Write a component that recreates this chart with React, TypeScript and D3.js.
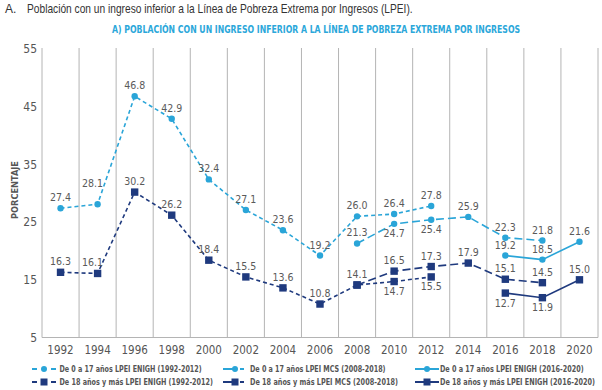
import React, { useLayoutEffect, useRef, useState } from 'react';
import * as d3 from 'd3';

const years = ['1992','1994','1996','1998','2000','2002','2004','2006','2008','2010','2012','2014','2016','2018','2020'];
const yTicks = [5, 15, 25, 35, 45, 55];

const childEnighAYears = ['1992','1994','1996','1998','2000','2002','2004','2006','2008','2010','2012'];
const childEnighAValues = [27.4, 28.1, 46.8, 42.9, 32.4, 27.1, 23.6, 19.2, 26.0, 26.4, 27.8];

const childMcsYears = ['2008','2010','2012','2014','2016','2018'];
const childMcsValues = [21.3, 24.7, 25.4, 25.9, 22.3, 21.8];

const childEnighBYears = ['2016','2018','2020'];
const childEnighBValues = [19.2, 18.5, 21.6];

const adultEnighAYears = ['1992','1994','1996','1998','2000','2002','2004','2006','2008','2010','2012'];
const adultEnighAValues = [16.3, 16.1, 30.2, 26.2, 18.4, 15.5, 13.6, 10.8, 14.1, 14.7, 15.5];

const adultMcsYears = ['2008','2010','2012','2014','2016','2018'];
const adultMcsValues = [14.1, 16.5, 17.3, 17.9, 15.1, 14.5];

const adultEnighBYears = ['2016','2018','2020'];
const adultEnighBValues = [12.7, 11.9, 15.0];

const legendLabels = [
  'De 0 a 17 años LPEI ENIGH (1992-2012)',
  'De 0 a 17 años LPEI MCS (2008-2018)',
  'De 0 a 17 años LPEI ENIGH (2016-2020)',
  'De 18 años y más LPEI ENIGH (1992-2012)',
  'De 18 años y más LPEI MCS (2008-2018)',
  'De 18 años y más LPEI ENIGH (2016-2020)',
];

const LIGHT = '#2aa5d8';
const DARK = '#1f3a7e';
const LABEL = '#5a5a5a';
const COND = "'Liberation Sans Narrow', 'DejaVu Sans Condensed', 'Roboto', sans-serif";

type Series = {
  years: string[];
  values: number[];
  color: string;
  dash: string;
  marker: 'circle' | 'square';
  below: number[];
  dx: Record<number, number>;
  dy: Record<number, number>;
  hideLabel: number[];
};

const series: Series[] = [
  { years: childEnighAYears, values: childEnighAValues, color: LIGHT, dash: '4,3', marker: 'circle', below: [], dx: { 1: -5 }, dy: { 1: -17 }, hideLabel: [] },
  { years: childMcsYears, values: childMcsValues, color: LIGHT, dash: '8,4', marker: 'circle', below: [1, 2], dx: {}, dy: {}, hideLabel: [] },
  { years: childEnighBYears, values: childEnighBValues, color: LIGHT, dash: '', marker: 'circle', below: [], dx: {}, dy: {}, hideLabel: [] },
  { years: adultEnighAYears, values: adultEnighAValues, color: DARK, dash: '4,3', marker: 'square', below: [9, 10], dx: { 1: -5 }, dy: {}, hideLabel: [8] },
  { years: adultMcsYears, values: adultMcsValues, color: DARK, dash: '8,4', marker: 'square', below: [], dx: {}, dy: {}, hideLabel: [] },
  { years: adultEnighBYears, values: adultEnighBValues, color: DARK, dash: '', marker: 'square', below: [0, 1], dx: {}, dy: {}, hideLabel: [] },
];

type FitProps = {
  x: number; y: number; width: number; rotate?: number; anchor?: string;
  fontFamily: string; fontSize: number; fontWeight?: string; fill: string; dy?: string;
  children: string;
};

function FitText({ x, y, width, rotate, anchor, fontFamily, fontSize, fontWeight, fill, dy, children }: FitProps) {
  const ref = useRef<SVGTextElement>(null);
  const [s, setS] = useState(1);
  useLayoutEffect(() => {
    if (ref.current) {
      const n = ref.current.getComputedTextLength();
      if (n > 0) setS(width / n);
    }
  }, [width, children]);
  const rot = rotate ? ` rotate(${rotate})` : '';
  return (
    <text ref={ref} transform={`translate(${x},${y})${rot} scale(${s},1)`} textAnchor={anchor || 'start'}
      fontFamily={fontFamily} fontSize={fontSize} fontWeight={fontWeight} fill={fill} dy={dy}>{children}</text>
  );
}

export default function App() {
  const W = 602, H = 390;
  const x = d3.scaleBand<string>().domain(years).range([42, 598]);
  const y = d3.scaleLinear().domain([5, 55]).range([337.5, 49]);
  const cx = (yr: string) => (x(yr) as number) + x.bandwidth() / 2;
  const line = d3.line<[string, number]>().x(d => cx(d[0])).y(d => y(d[1]));

  const gridXs = years.map(yr => x(yr) as number).concat([598]);

  const legendCols = [
    { sym: 32, text: 59.5, w: [142.5, 153.5] },
    { sym: 223, text: 250, w: [136, 148] },
    { sym: 415, text: 440, w: [144, 155] },
  ];
  const legendRows = [369, 382];

  const legendSymbol = (s: Series, x0: number, cy: number, key: string) => {
    const m = s.marker === 'circle'
      ? <circle cx={x0 + 12} cy={cy} r={3} fill={s.color} />
      : <rect x={x0 + 8.5} y={cy - 3.5} width={7} height={7} fill={s.color} />;
    if (s.dash === '4,3') {
      return (
        <g key={key}>
          <line x1={x0} x2={x0 + 5} y1={cy} y2={cy} stroke={s.color} strokeWidth={2} />
          <line x1={x0 + 19} x2={x0 + 24} y1={cy} y2={cy} stroke={s.color} strokeWidth={2} />
          {m}
        </g>
      );
    }
    if (s.dash === '8,4') {
      return (
        <g key={key}>
          <line x1={x0} x2={x0 + 12} y1={cy} y2={cy} stroke={s.color} strokeWidth={2} />
          <line x1={x0 + 17} x2={x0 + 21} y1={cy} y2={cy} stroke={s.color} strokeWidth={2} />
          {m}
        </g>
      );
    }
    return (
      <g key={key}>
        <line x1={x0} x2={x0 + 24} y1={cy} y2={cy} stroke={s.color} strokeWidth={2} />
        {m}
      </g>
    );
  };

  return (
    <svg width={W} height={H} style={{ position: 'absolute', left: 0, top: 0, background: '#fff' }}>
      <rect width={W} height={H} fill="#fff" />
      <text x={5} y={13} fontFamily="'Liberation Sans', Arial, sans-serif" fontSize={12} fill="#333">A.</text>
      <FitText x={27} y={13} width={386} fontFamily="'Liberation Sans', Arial, sans-serif" fontSize={12} fill="#333">Población con un ingreso inferior a la Línea de Pobreza Extrema por Ingresos (LPEI).</FitText>
      <FitText x={112} y={33} width={409} fontFamily={COND} fontWeight="bold" fontSize={11} fill="#2ba7da">A) POBLACIÓN CON UN INGRESO INFERIOR A LA LÍNEA DE POBREZA EXTREMA POR INGRESOS</FitText>

      {gridXs.map((gx, i) => (
        <line key={'g' + i} x1={gx} x2={gx} y1={48} y2={337.5} stroke="#b4b4b4" strokeWidth={1} />
      ))}
      <line x1={42} x2={598} y1={337.5} y2={337.5} stroke="#b4b4b4" strokeWidth={1} />

      {yTicks.map(t => (
        <text key={'yt' + t} x={37} y={y(t)} dy="0.35em" textAnchor="end" fontFamily={COND} fontSize={12} fill="#555">{t}</text>
      ))}
      <FitText x={18} y={190} rotate={-90} anchor="middle" width={58} fontFamily={COND} fontWeight="bold" fontSize={8.5} fill="#555">PORCENTAJE</FitText>
      {years.map(yr => (
        <text key={'xt' + yr} x={cx(yr)} y={353.5} textAnchor="middle" fontFamily={COND} fontSize={11.5} fill="#555">{yr}</text>
      ))}

      {series.map((s, si) => {
        const pts = s.years.map((yr, i) => [yr, s.values[i]] as [string, number]);
        return (
          <g key={'s' + si}>
            <path d={line(pts) || ''} fill="none" stroke={s.color} strokeWidth={1.6} strokeDasharray={s.dash || undefined} />
            {pts.map((p, i) => s.marker === 'circle'
              ? <circle key={i} cx={cx(p[0])} cy={y(p[1])} r={3.2} fill={s.color} />
              : <rect key={i} x={cx(p[0]) - 3.7} y={y(p[1]) - 3.7} width={7.4} height={7.4} fill={s.color} />)}
          </g>
        );
      })}

      {series.map((s, si) => (
        <g key={'l' + si}>
          {s.years.map((yr, i) => s.hideLabel.includes(i) ? null : (
            <text key={i} x={cx(yr) + (s.dx[i] || 0)}
              y={y(s.values[i]) + (s.dy[i] !== undefined ? s.dy[i] : (s.below.includes(i) ? 13.5 : -7))}
              textAnchor="middle" fontFamily={COND} fontSize={10.5} fill={LABEL}>{s.values[i].toFixed(1)}</text>
          ))}
        </g>
      ))}

      {series.map((s, si) => {
        const col = legendCols[si % 3];
        const row = Math.floor(si / 3);
        const cy = legendRows[row];
        return (
          <g key={'lg' + si}>
            {legendSymbol(s, col.sym, cy, 'sym' + si)}
            <FitText x={col.text} y={cy} dy="0.35em" width={col.w[row]} fontFamily={COND} fontWeight="bold" fontSize={9.5} fill="#555">{legendLabels[si]}</FitText>
          </g>
        );
      })}
    </svg>
  );
}
